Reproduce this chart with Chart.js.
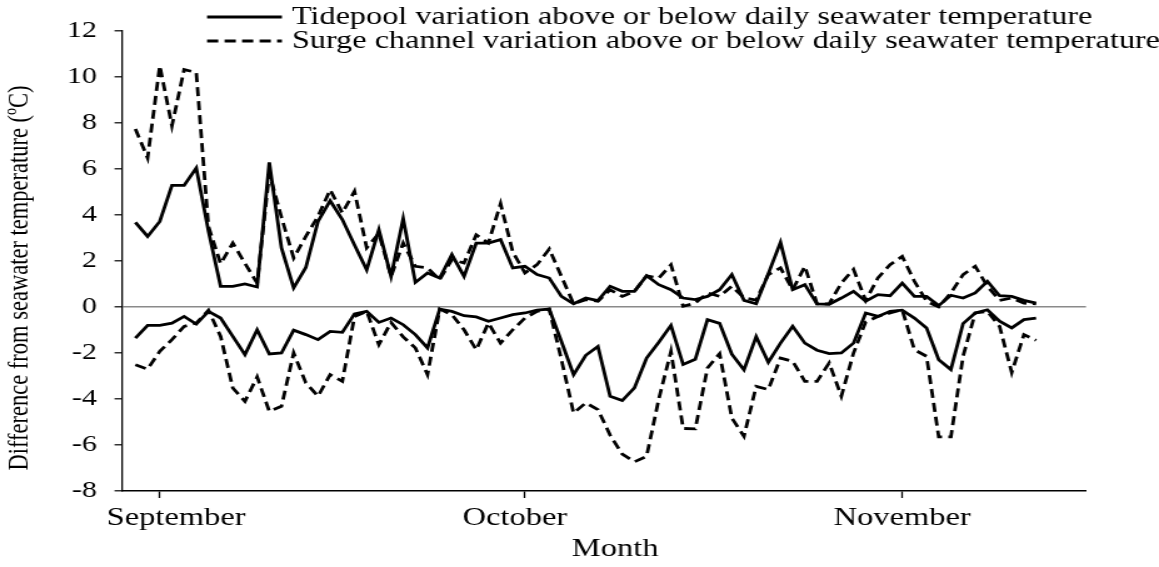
<!DOCTYPE html>
<html>
<head>
<meta charset="utf-8">
<script src="https://cdn.jsdelivr.net/npm/chart.js@4/dist/chart.umd.min.js"></script>
<style>
  html, body { margin: 0; padding: 0; background: #fff; }
</style>
</head>
<body>
<canvas id="c" width="927" height="567" style="display:block;width:1159px;height:567px"></canvas>
<script>
// Daily readings, first value is 30 August; day 0 = 1 September.
const firstDay = -2;

const tidepoolAbove = [
  3.68, 3.07, 3.72, 5.29, 5.29, 6.04, 3.3, 0.9, 0.9, 1.0,
  0.87, 6.29, 2.57, 0.83, 1.72, 3.72, 4.62, 3.8, 2.7, 1.62,
  3.36, 1.33, 3.84, 1.07, 1.48, 1.26, 2.28, 1.33, 2.78, 2.78,
  2.93, 1.70, 1.77, 1.41, 1.26, 0.46, 0.14, 0.39, 0.28, 0.9,
  0.68, 0.68, 1.36, 0.97, 0.75, 0.39, 0.32, 0.46, 0.75, 1.41,
  0.29, 0.14, 1.45, 2.81, 0.75, 0.97, 0.14, 0.12, 0.39, 0.68,
  0.25, 0.54, 0.49, 1.04, 0.46, 0.46, 0.06, 0.51, 0.39, 0.61,
  1.12, 0.49, 0.46, 0.29, 0.17
];

const tidepoolBelow = [
  -1.35, -0.8, -0.8, -0.7, -0.41, -0.74, -0.19, -0.48, -1.28, -2.07,
  -0.99, -2.04, -2.0, -1.01, -1.2, -1.42, -1.06, -1.1, -0.3, -0.19,
  -0.67, -0.48, -0.77, -1.2, -1.78, -0.09, -0.19, -0.38, -0.43, -0.62,
  -0.48, -0.33, -0.26, -0.14, -0.09, -1.5, -2.94, -2.1, -1.72, -3.88,
  -4.07, -3.52, -2.22, -1.53, -0.8, -2.5, -2.27, -0.55, -0.71, -2.05,
  -2.73, -1.29, -2.4, -1.57, -0.84, -1.57, -1.88, -2.03, -2.0, -1.57,
  -0.26, -0.41, -0.19, -0.14, -0.48, -0.91, -2.29, -2.72, -0.72, -0.26,
  -0.12, -0.62, -0.91, -0.55, -0.48
];

const surgeAbove = [
  7.74, 6.48, 10.49, 7.88, 10.32, 10.2, 3.5, 1.88, 2.78, 1.9,
  1.04, 5.8, 3.9, 2.13, 3.07, 3.94, 5.1, 4.09, 5.03, 2.57,
  3.2, 1.33, 2.78, 1.77, 1.7, 1.19, 2.06, 1.91, 3.14, 2.78,
  4.49, 2.4, 1.48, 1.84, 2.52, 1.33, 0.14, 0.32, 0.25, 0.75,
  0.46, 0.68, 1.36, 1.26, 1.84, 0.03, 0.17, 0.61, 0.46, 0.9,
  0.4, 0.3, 1.41, 1.7, 0.75, 1.77, 0.14, 0.14, 1.04, 1.64,
  0.28, 1.26, 1.84, 2.2, 1.12, 0.25, 0.0, 0.61, 1.41, 1.77,
  0.9, 0.29, 0.39, 0.17, 0.14
];

const surgeBelow = [
  -2.51, -2.7, -1.93, -1.42, -0.84, -0.7, -0.14, -1.28, -3.52, -4.1,
  -3.04, -4.54, -4.32, -2.0, -3.3, -3.88, -2.94, -3.23, -0.41, -0.19,
  -1.64, -0.67, -1.3, -1.78, -2.94, -0.09, -0.33, -0.99, -1.86, -0.7,
  -1.57, -0.99, -0.48, -0.19, -0.09, -2.29, -4.61, -4.17, -4.46, -5.57,
  -6.4, -6.73, -6.49, -4.0, -1.93, -5.28, -5.3, -2.65, -2.03, -4.83,
  -5.62, -3.45, -3.59, -2.22, -2.36, -3.23, -3.23, -2.43, -3.88, -2.0,
  -0.65, -0.41, -0.26, -0.12, -1.86, -2.14, -5.65, -5.65, -2.14, -0.26,
  -0.19, -0.84, -2.85, -1.2, -1.45
];

const monthStarts = [0, 30, 61];
const monthNames = ['September', 'October', 'November'];
const yTicksMin = -8, yTicksMax = 12, yTickStep = 2;

const tidepoolLabel = 'Tidepool variation above or below daily seawater temperature';
const surgeLabel = 'Surge channel variation above or below daily seawater temperature';
const xTitle = 'Month';
const yTitle = 'Difference from seawater temperature (\u00BAC)';

const dayNumbers = tidepoolAbove.map((_, i) => firstDay + i);

const serif = 'Liberation Serif, Times New Roman, serif';
const solid = [];
const dashed = [9, 5];

function series(label, values, dash) {
  return {
    label: label,
    data: values,
    borderColor: '#000',
    backgroundColor: '#000',
    borderWidth: 2.8,
    borderDash: dash,
    pointRadius: 0,
    tension: 0,
    fill: false
  };
}

// Nudges the month names sideways from their tick marks
const monthLabelNudge = {
  id: 'monthLabelNudge',
  beforeDraw(chart, args, opts) {
    const scale = chart.scales.x;
    const items = scale.getLabelItems(chart.chartArea);
    if (items._nudged) return;
    items.forEach((it, i) => { it.options.translation[0] += opts.shift[i] || 0; });
    items._nudged = true;
  }
};

// Axis titles and the two-row key drawn over the top of the plot
const annotations = {
  id: 'annotations',
  afterDraw(chart, args, opts) {
    const ctx = chart.ctx;
    ctx.save();
    ctx.fillStyle = '#000';

    // key
    opts.key.entries.forEach((entry, k) => {
      const ds = chart.data.datasets[entry];
      const y = opts.key.rowY[k];
      ctx.strokeStyle = ds.borderColor;
      ctx.lineWidth = ds.borderWidth;
      ctx.setLineDash(ds.borderDash || []);
      ctx.beginPath();
      ctx.moveTo(opts.key.lineStart, y);
      ctx.lineTo(opts.key.lineEnd, y);
      ctx.stroke();
      ctx.setLineDash([]);
      ctx.font = opts.key.fontSize + 'px ' + serif;
      ctx.textAlign = 'left';
      ctx.textBaseline = 'middle';
      ctx.fillText(ds.label, opts.key.textX, y);
    });

    // x title
    ctx.font = opts.xTitle.fontSize + 'px ' + serif;
    ctx.textAlign = 'center';
    ctx.textBaseline = 'middle';
    ctx.fillText(opts.xTitle.text, opts.xTitle.x, opts.xTitle.y);

    // y title, rotated
    ctx.translate(opts.yTitle.x, opts.yTitle.y);
    ctx.rotate(-Math.PI / 2);
    ctx.font = opts.yTitle.fontSize + 'px ' + serif;
    ctx.fillText(opts.yTitle.text, 0, 0);
    ctx.restore();
  }
};

new Chart(document.getElementById('c'), {
  type: 'line',
  data: {
    labels: dayNumbers,
    datasets: [
      series(tidepoolLabel, tidepoolAbove, solid),
      series(tidepoolLabel, tidepoolBelow, solid),
      series(surgeLabel, surgeAbove, dashed),
      series(surgeLabel, surgeBelow, dashed)
    ]
  },
  plugins: [monthLabelNudge, annotations],
  options: {
    responsive: false,
    animation: false,
    devicePixelRatio: 1,
    layout: { padding: { top: 31, right: 58.4, bottom: 0, left: 0 } },
    plugins: {
      legend: { display: false },
      tooltip: { enabled: false },
      monthLabelNudge: { shift: [13, -8, 0] },
      annotations: {
        key: {
          entries: [0, 2],
          rowY: [17, 41],
          lineStart: 165.6,
          lineEnd: 225.5,
          textX: 233.5,
          fontSize: 25.8
        },
        xTitle: { text: xTitle, x: 492, y: 549, fontSize: 26 },
        yTitle: { text: yTitle, x: 16, y: 278, fontSize: 22.5 }
      }
    },
    scales: {
      x: {
        type: 'linear',
        min: -3.1,
        max: 76.1,
        afterBuildTicks: s => { s.ticks = monthStarts.map(v => ({ value: v })); },
        afterFit: s => { s.height = 76; },
        ticks: {
          autoSkip: false,
          maxRotation: 0,
          color: '#000',
          padding: 5,
          font: { family: serif, size: 26 },
          callback: (v, i) => monthNames[i]
        },
        grid: { drawOnChartArea: false, tickLength: 7, tickColor: '#000', tickWidth: 1.3 },
        border: { color: '#000', width: 1.5 }
      },
      y: {
        min: yTicksMin,
        max: yTicksMax,
        afterFit: s => { s.width = 97.6; },
        ticks: {
          stepSize: yTickStep,
          color: '#000',
          padding: 14,
          font: { family: serif, size: 24 }
        },
        grid: {
          color: c => (c.tick && c.tick.value === 0 ? '#8a8a8a' : 'rgba(0,0,0,0)'),
          lineWidth: 1.6,
          tickLength: 6,
          tickColor: '#000',
          tickWidth: 1.2
        },
        border: { color: '#000', width: 1.3 }
      }
    }
  }
});
</script>
</body>
</html>
